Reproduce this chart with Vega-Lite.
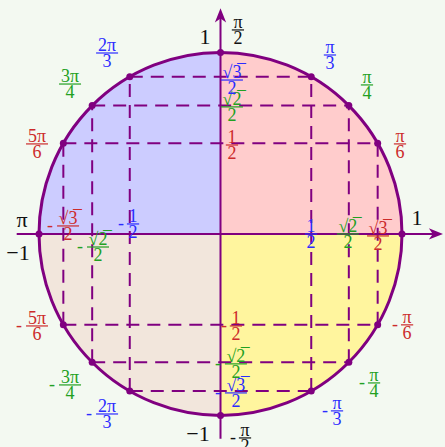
{
  "$schema": "https://vega.github.io/schema/vega-lite/v6.json",
  "width": 445,
  "height": 447,
  "autosize": {"type": "none"},
  "padding": 0,
  "background": "#f3f9f1",
  "config": {"view": {"stroke": null}, "axis": {"disable": true}},
  "datasets": {
    "quad": [
      {"q": "I", "a0": 0, "a1": 1.5708},
      {"q": "IV", "a0": 1.5708, "a1": 3.1416},
      {"q": "III", "a0": 3.1416, "a1": 4.7124},
      {"q": "II", "a0": 4.7124, "a1": 6.2832}
    ],
    "dash": [
      {"x": -0.866, "x2": 0.866, "y": 0.5, "y2": 0.5},
      {"x": -0.7071, "x2": 0.7071, "y": 0.7071, "y2": 0.7071},
      {"x": -0.5, "x2": 0.5, "y": 0.866, "y2": 0.866},
      {"x": -0.866, "x2": 0.866, "y": -0.5, "y2": -0.5},
      {"x": -0.7071, "x2": 0.7071, "y": -0.7071, "y2": -0.7071},
      {"x": -0.5, "x2": 0.5, "y": -0.866, "y2": -0.866},
      {"x": 0.5, "x2": 0.5, "y": -0.866, "y2": 0.866},
      {"x": 0.7071, "x2": 0.7071, "y": -0.7071, "y2": 0.7071},
      {"x": 0.866, "x2": 0.866, "y": -0.5, "y2": 0.5},
      {"x": -0.5, "x2": -0.5, "y": -0.866, "y2": 0.866},
      {"x": -0.7071, "x2": -0.7071, "y": -0.7071, "y2": 0.7071},
      {"x": -0.866, "x2": -0.866, "y": -0.5, "y2": 0.5}
    ],
    "axes": [
      {"x": -1.123, "x2": 1.19, "y": 0, "y2": 0},
      {"x": 0, "x2": 0, "y": -1.128, "y2": 1.204}
    ],
    "arrows": [
      {"x": 1.187, "y": 0, "dir": "right"},
      {"x": 0, "y": 1.204, "dir": "up"}
    ],
    "pts": [
      {"x": 1, "y": 0}, {"x": 0.866, "y": 0.5}, {"x": 0.7071, "y": 0.7071}, {"x": 0.5, "y": 0.866},
      {"x": 0, "y": 1}, {"x": -0.5, "y": 0.866}, {"x": -0.7071, "y": 0.7071}, {"x": -0.866, "y": 0.5},
      {"x": -1, "y": 0}, {"x": -0.866, "y": -0.5}, {"x": -0.7071, "y": -0.7071}, {"x": -0.5, "y": -0.866},
      {"x": 0, "y": -1}, {"x": 0.5, "y": -0.866}, {"x": 0.7071, "y": -0.7071}, {"x": 0.866, "y": -0.5}
    ],
    "frac": [
      {"x": 0.603, "y": 0.986, "num": "π", "den": "3", "k": "pi3", "neg": false},
      {"x": 0.807, "y": 0.821, "num": "π", "den": "4", "k": "pi4", "neg": false},
      {"x": 0.989, "y": 0.496, "num": "π", "den": "6", "k": "pi6", "neg": false},
      {"x": -0.625, "y": 0.997, "num": "2π", "den": "3", "k": "pi3", "neg": false},
      {"x": -0.829, "y": 0.826, "num": "3π", "den": "4", "k": "pi4", "neg": false},
      {"x": -1.011, "y": 0.496, "num": "5π", "den": "6", "k": "pi6", "neg": false},
      {"x": 0.096, "y": 1.124, "num": "π", "den": "2", "k": "axis", "neg": false},
      {"x": 0.135, "y": -1.124, "num": "π", "den": "2", "k": "axis", "neg": true},
      {"x": -1.011, "y": -0.507, "num": "5π", "den": "6", "k": "pi6", "neg": true},
      {"x": -0.829, "y": -0.832, "num": "3π", "den": "4", "k": "pi4", "neg": true},
      {"x": -0.625, "y": -0.992, "num": "2π", "den": "3", "k": "pi3", "neg": true},
      {"x": 0.642, "y": -0.975, "num": "π", "den": "3", "k": "pi3", "neg": true},
      {"x": 0.846, "y": -0.821, "num": "π", "den": "4", "k": "pi4", "neg": true},
      {"x": 1.028, "y": -0.501, "num": "π", "den": "6", "k": "pi6", "neg": true},
      {"x": 0.063, "y": 0.848, "num": "√3̅", "den": "2", "k": "pi3", "neg": false},
      {"x": 0.063, "y": 0.7, "num": "√2̅", "den": "2", "k": "pi4", "neg": false},
      {"x": 0.063, "y": 0.49, "num": "1", "den": "2", "k": "pi6", "neg": false},
      {"x": 0.085, "y": -0.507, "num": "1", "den": "2", "k": "pi6", "neg": true},
      {"x": 0.085, "y": -0.716, "num": "√2̅", "den": "2", "k": "pi4", "neg": true},
      {"x": 0.085, "y": -0.876, "num": "√3̅", "den": "2", "k": "pi3", "neg": true},
      {"x": 0.499, "y": 0, "num": "1", "den": "2", "k": "pi3", "neg": false},
      {"x": 0.702, "y": 0, "num": "√2̅", "den": "2", "k": "pi4", "neg": false},
      {"x": 0.868, "y": -0.011, "num": "√3̅", "den": "2", "k": "pi6", "neg": false},
      {"x": -0.482, "y": 0.055, "num": "1", "den": "2", "k": "pi3", "neg": true},
      {"x": -0.84, "y": 0.044, "num": "√3̅", "den": "2", "k": "pi6", "neg": true},
      {"x": -0.675, "y": -0.072, "num": "√2̅", "den": "2", "k": "pi4", "neg": true}
    ],
    "big": [
      {"x": 1.083, "y": 0.088, "t": "1"},
      {"x": -0.085, "y": 1.085, "t": "1"},
      {"x": -1.094, "y": 0.077, "t": "π"},
      {"x": -1.116, "y": -0.105, "t": "−1"},
      {"x": -0.124, "y": -1.102, "t": "−1"}
    ]
  },
  "layer": [
    {
      "data": {"name": "quad"},
      "mark": {"type": "arc", "radius": 181.5, "strokeWidth": 0},
      "encoding": {
        "x": {"datum": 0, "type": "quantitative", "scale": {"domain": [-1.215, 1.237], "nice": false, "zero": false}},
        "y": {"datum": 0, "type": "quantitative", "scale": {"domain": [-1.174, 1.289], "nice": false, "zero": false}},
        "theta": {"field": "a0", "type": "quantitative", "scale": null, "stack": null},
        "theta2": {"field": "a1"},
        "fill": {"field": "q", "type": "nominal", "scale": {"domain": ["I", "II", "III", "IV"], "range": ["#ffcccc", "#ccccff", "#f2e6dc", "#fff59e"]}, "legend": null}
      }
    },
    {
      "data": {"name": "dash"},
      "mark": {"type": "rule", "color": "#800080", "strokeWidth": 2, "strokeDash": [13, 8]},
      "encoding": {
        "x": {"field": "x", "type": "quantitative", "scale": {"domain": [-1.215, 1.237], "nice": false, "zero": false}},
        "x2": {"field": "x2"},
        "y": {"field": "y", "type": "quantitative", "scale": {"domain": [-1.174, 1.289], "nice": false, "zero": false}},
        "y2": {"field": "y2"}
      }
    },
    {
      "data": {"values": [{"a0": 0, "a1": 6.2832}]},
      "mark": {"type": "arc", "radius": 181.5, "filled": false, "color": "#800080", "strokeWidth": 3},
      "encoding": {
        "x": {"datum": 0, "type": "quantitative", "scale": {"domain": [-1.215, 1.237], "nice": false, "zero": false}},
        "y": {"datum": 0, "type": "quantitative", "scale": {"domain": [-1.174, 1.289], "nice": false, "zero": false}},
        "theta": {"field": "a0", "type": "quantitative", "scale": null, "stack": null},
        "theta2": {"field": "a1"}
      }
    },
    {
      "data": {"name": "axes"},
      "mark": {"type": "rule", "color": "#800080", "strokeWidth": 2},
      "encoding": {
        "x": {"field": "x", "type": "quantitative", "scale": {"domain": [-1.215, 1.237], "nice": false, "zero": false}},
        "x2": {"field": "x2"},
        "y": {"field": "y", "type": "quantitative", "scale": {"domain": [-1.174, 1.289], "nice": false, "zero": false}},
        "y2": {"field": "y2"}
      }
    },
    {
      "data": {"name": "arrows"},
      "mark": {"type": "point", "filled": true, "color": "#800080", "opacity": 1, "size": 200},
      "encoding": {
        "x": {"field": "x", "type": "quantitative", "scale": {"domain": [-1.215, 1.237], "nice": false, "zero": false}},
        "y": {"field": "y", "type": "quantitative", "scale": {"domain": [-1.174, 1.289], "nice": false, "zero": false}},
        "shape": {"field": "dir", "type": "nominal", "scale": {"domain": ["right", "up"], "range": ["M 1 0 L -1 -0.8 L -0.45 0 L -1 0.8 Z", "M 0 -1 L -0.8 1 L 0 0.45 L 0.8 1 Z"]}, "legend": null}
      }
    },
    {
      "data": {"name": "pts"},
      "mark": {"type": "point", "shape": "circle", "filled": true, "color": "#800080", "opacity": 1, "size": 49},
      "encoding": {
        "x": {"field": "x", "type": "quantitative", "scale": {"domain": [-1.215, 1.237], "nice": false, "zero": false}},
        "y": {"field": "y", "type": "quantitative", "scale": {"domain": [-1.174, 1.289], "nice": false, "zero": false}}
      }
    },
    {
      "data": {"name": "frac"},
      "mark": {"type": "text", "font": "Liberation Serif", "fontSize": 18, "align": "center", "baseline": "alphabetic", "dy": -2},
      "encoding": {
        "x": {"field": "x", "type": "quantitative", "scale": {"domain": [-1.215, 1.237], "nice": false, "zero": false}},
        "y": {"field": "y", "type": "quantitative", "scale": {"domain": [-1.174, 1.289], "nice": false, "zero": false}},
        "text": {"field": "num"},
        "color": {"field": "k", "type": "nominal", "scale": {"domain": ["pi6", "pi4", "pi3", "axis"], "range": ["#cc2b2b", "#22a022", "#2b2bff", "#111111"]}, "legend": null}
      }
    },
    {
      "data": {"name": "frac"},
      "mark": {"type": "text", "font": "Liberation Serif", "fontSize": 18, "align": "center", "baseline": "top", "dy": 0},
      "encoding": {
        "x": {"field": "x", "type": "quantitative", "scale": {"domain": [-1.215, 1.237], "nice": false, "zero": false}},
        "y": {"field": "y", "type": "quantitative", "scale": {"domain": [-1.174, 1.289], "nice": false, "zero": false}},
        "text": {"field": "den"},
        "color": {"field": "k", "type": "nominal", "scale": {"domain": ["pi6", "pi4", "pi3", "axis"], "range": ["#cc2b2b", "#22a022", "#2b2bff", "#111111"]}, "legend": null}
      }
    },
    {
      "data": {"name": "frac"},
      "mark": {"type": "point", "shape": "stroke", "filled": false, "strokeWidth": 1.2, "opacity": 1},
      "encoding": {
        "x": {"field": "x", "type": "quantitative", "scale": {"domain": [-1.215, 1.237], "nice": false, "zero": false}},
        "y": {"field": "y", "type": "quantitative", "scale": {"domain": [-1.174, 1.289], "nice": false, "zero": false}},
        "size": {"condition": {"test": "length(datum.num) > 1", "value": 484}, "value": 150},
        "color": {"field": "k", "type": "nominal", "scale": {"domain": ["pi6", "pi4", "pi3", "axis"], "range": ["#cc2b2b", "#22a022", "#2b2bff", "#111111"]}, "legend": null}
      }
    },
    {
      "data": {"name": "frac"},
      "transform": [{"filter": "datum.neg && length(datum.num) > 1"}],
      "mark": {"type": "text", "text": "-", "font": "Liberation Serif", "fontSize": 18, "align": "center", "baseline": "middle", "dx": -18},
      "encoding": {
        "x": {"field": "x", "type": "quantitative", "scale": {"domain": [-1.215, 1.237], "nice": false, "zero": false}},
        "y": {"field": "y", "type": "quantitative", "scale": {"domain": [-1.174, 1.289], "nice": false, "zero": false}},
        "color": {"field": "k", "type": "nominal", "scale": {"domain": ["pi6", "pi4", "pi3", "axis"], "range": ["#cc2b2b", "#22a022", "#2b2bff", "#111111"]}, "legend": null}
      }
    },
    {
      "data": {"name": "frac"},
      "transform": [{"filter": "datum.neg && length(datum.num) <= 1"}],
      "mark": {"type": "text", "text": "-", "font": "Liberation Serif", "fontSize": 18, "align": "center", "baseline": "middle", "dx": -12},
      "encoding": {
        "x": {"field": "x", "type": "quantitative", "scale": {"domain": [-1.215, 1.237], "nice": false, "zero": false}},
        "y": {"field": "y", "type": "quantitative", "scale": {"domain": [-1.174, 1.289], "nice": false, "zero": false}},
        "color": {"field": "k", "type": "nominal", "scale": {"domain": ["pi6", "pi4", "pi3", "axis"], "range": ["#cc2b2b", "#22a022", "#2b2bff", "#111111"]}, "legend": null}
      }
    },
    {
      "data": {"name": "big"},
      "mark": {"type": "text", "font": "Liberation Serif", "fontSize": 22, "align": "center", "baseline": "middle", "color": "#111111"},
      "encoding": {
        "x": {"field": "x", "type": "quantitative", "scale": {"domain": [-1.215, 1.237], "nice": false, "zero": false}},
        "y": {"field": "y", "type": "quantitative", "scale": {"domain": [-1.174, 1.289], "nice": false, "zero": false}},
        "text": {"field": "t"}
      }
    }
  ]
}
